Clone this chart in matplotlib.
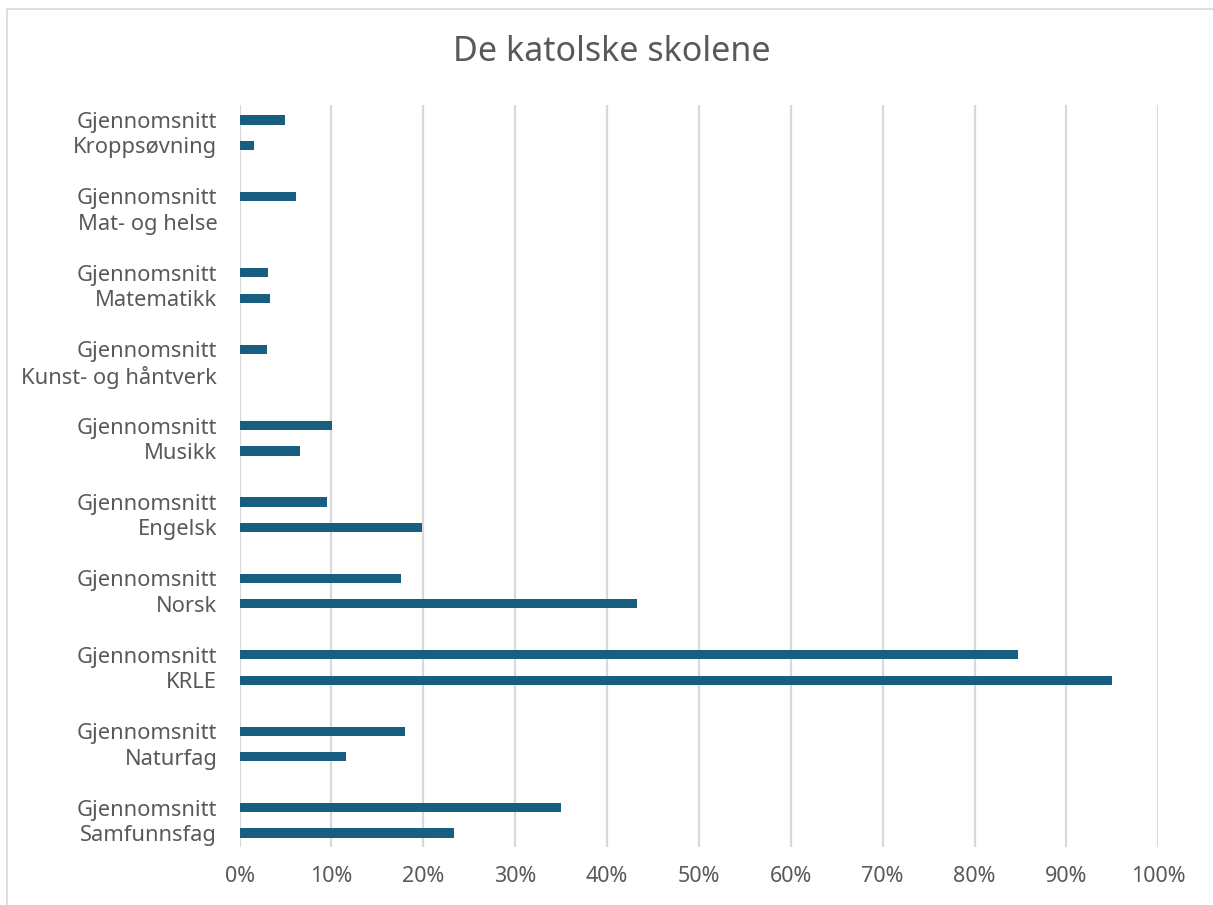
import matplotlib.pyplot as plt
from matplotlib.patches import Rectangle
from matplotlib.ticker import FuncFormatter

# top to bottom
subjects = ["Kroppsøvning", "Mat- og helse", "Matematikk", "Kunst- og håntverk",
            "Musikk", "Engelsk", "Norsk", "KRLE", "Naturfag", "Samfunnsfag"]
snitt = [5.0, 6.15, 3.07, 2.96, 10.1, 9.5, 17.6, 84.7, 18.0, 35.0]
skole = [1.6, 0.0, 3.3, 0.0, 6.6, 19.9, 43.3, 95.0, 11.6, 23.3]
snitt_label = "Gjennomsnitt"
xticks = [0, 10, 20, 30, 40, 50, 60, 70, 80, 90, 100]

bar_color = "#175E80"
text_color = "#595959"
grid_color = "#D9D9D9"

plt.rcParams['font.family'] = ['Noto Sans', 'DejaVu Sans']

fig = plt.figure(figsize=(12.13, 9.05), dpi=100)
ax = fig.add_axes([239.5 / 1213, 58 / 905, 918.8 / 1213, 742 / 905])

pos_snitt = [3 * i for i in range(len(subjects))]
pos_skole = [3 * i + 1 for i in range(len(subjects))]

ax.barh(pos_snitt, snitt, height=0.36, color=bar_color, linewidth=0, zorder=3)
ax.barh(pos_skole, skole, height=0.36, color=bar_color, linewidth=0, zorder=3)

ax.set_ylim(28.55, -0.59)
ax.set_xlim(0, 100)

yt = []
yl = []
for i, s in enumerate(subjects):
    yt += [pos_snitt[i], pos_skole[i]]
    yl += [snitt_label, s]
ax.set_yticks(yt)
ax.set_yticklabels(yl)
ax.set_xticks(xticks)
ax.xaxis.set_major_formatter(FuncFormatter(lambda v, p: f"{v:.0f}%"))

ax.tick_params(axis='y', length=0, pad=16, labelsize=15.8, labelcolor=text_color)
ax.tick_params(axis='x', length=0, pad=14, labelsize=15.5, labelcolor=text_color)

for s in ax.spines.values():
    s.set_visible(False)
ax.grid(axis='x', color=grid_color, linewidth=1.6, zorder=0)
ax.set_axisbelow(True)

fig.text(0.5045, 1 - 52 / 905, "De katolske skolene", ha='center', va='center',
         fontsize=24.5, color=text_color)

fig.patches.append(Rectangle((7 / 1213, -0.1), 1.2, 1 - 9.5 / 905 + 0.1, transform=fig.transFigure,
                             fill=False, edgecolor=grid_color, linewidth=1.2))

fig.savefig("out.png", dpi=100, facecolor="white")
